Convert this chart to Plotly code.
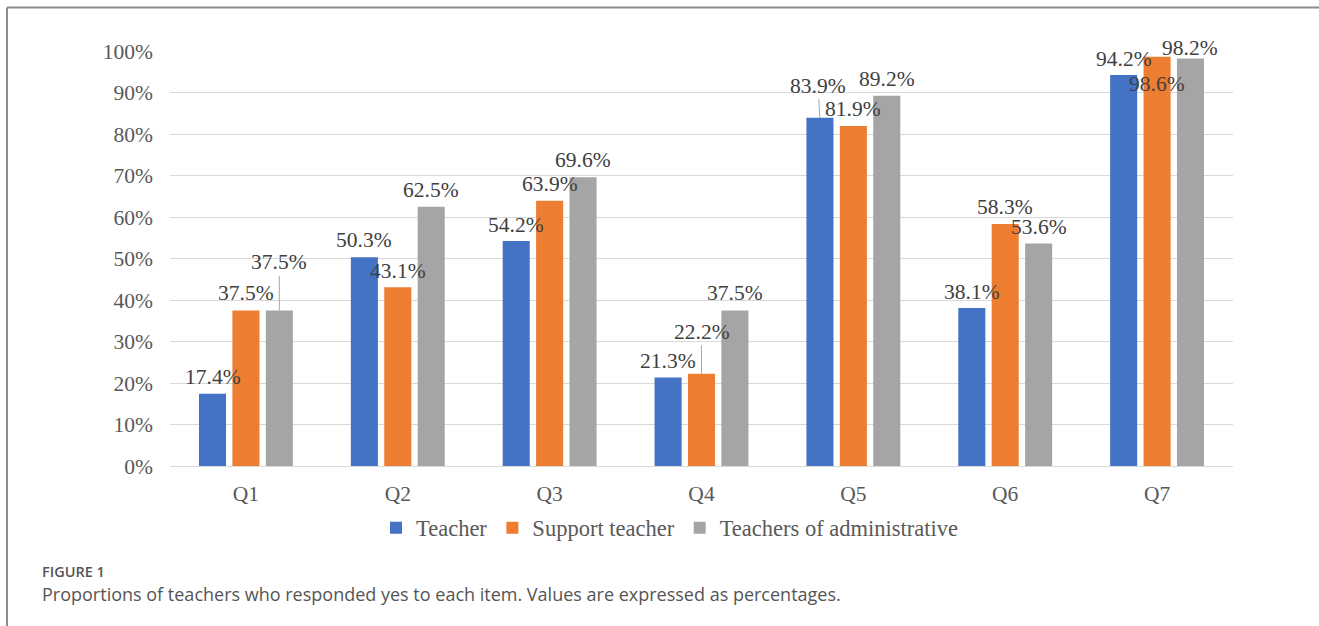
import plotly.graph_objects as go

categories = ["Q1", "Q2", "Q3", "Q4", "Q5", "Q6", "Q7"]
series_names = ["Teacher", "Support teacher", "Teachers of administrative"]
teacher = [17.4, 50.3, 54.2, 21.3, 83.9, 38.1, 94.2]
support_teacher = [37.5, 43.1, 63.9, 22.2, 81.9, 58.3, 98.6]
administrative = [37.5, 62.5, 69.6, 37.5, 89.2, 53.6, 98.2]
y_ticks = [0, 10, 20, 30, 40, 50, 60, 70, 80, 90, 100]

series_values = [teacher, support_teacher, administrative]
colors = ["#4472C4", "#ED7D31", "#A5A5A5"]

# label placement styles (dx px, dy px above bar top, leader line)
label_style = [
    [(0, 17, 0), (0, 17, 0), (0, 16, 0), (0, 17, 0), (-2, 32, 1), (0, 16, 0), (0, 16, 0)],
    [(0, 17, 0), (0, 16, 0), (0, 17, 0), (0, 42, 1), (0, 17, 0), (0, 17, 0), (0, -27, 0)],
    [(0, 48, 1), (0, 17, 0), (0, 17, 0), (0, 17, 0), (0, 17, 0), (0, 17, 0), (0, 10, 0)],
]

W, H = 1319, 626
ML, MR, MT, MB = 170, 86, 51, 160
BARGAP, GROUPGAP = 0.34, 0.19
plot_w = W - ML - MR
plot_h = H - MT - MB
slot_px = plot_w / len(categories) * (1 - BARGAP) / len(series_names)

serif = "Liberation Serif"

fig = go.Figure()
for name, vals, col in zip(series_names, series_values, colors):
    fig.add_trace(go.Bar(
        x=categories, y=[v / 100 for v in vals], name=name,
        marker=dict(color=col, line=dict(width=0)),
        hoverinfo="x+y+name",
    ))

annotations = []
for si, vals in enumerate(series_values):
    offset = (si - (len(series_names) - 1) / 2) * slot_px
    for ci, v in enumerate(vals):
        dx, dy, line = label_style[si][ci]
        annotations.append(dict(
            x=categories[ci], y=v / 100, xref="x", yref="y",
            xshift=offset, text=f"{v:.1f}%",
            showarrow=True, ax=dx, ay=-dy, arrowhead=0, standoff=0,
            arrowwidth=1,
            arrowcolor="#a6a6a6" if line else "rgba(0,0,0,0)",
            font=dict(family=serif, size=21.5, color="#404040"),
        ))

def px_x(p):
    return (p - ML) / plot_w

def px_y(p):
    return (H - MB - p) / plot_h

annotations.append(dict(
    x=px_x(40), y=px_y(571), xref="paper", yref="paper", xanchor="left", yanchor="middle",
    showarrow=False, text="FIGURE 1",
    font=dict(family="Open Sans", size=14.5, color="#555555", weight=600),
))
annotations.append(dict(
    x=px_x(40), y=px_y(594), xref="paper", yref="paper", xanchor="left", yanchor="middle",
    showarrow=False,
    text="Proportions of teachers who responded yes to each item. Values are expressed as percentages.",
    font=dict(family="Open Sans", size=18, color="#555555"),
))

shapes = [
    dict(type="line", xref="paper", yref="paper", x0=px_x(7), x1=px_x(7),
         y0=px_y(7.5), y1=px_y(640), line=dict(color="#8c8c8c", width=2)),
    dict(type="line", xref="paper", yref="paper", x0=px_x(7), x1=px_x(1330),
         y0=px_y(7.5), y1=px_y(7.5), line=dict(color="#8c8c8c", width=2)),
]

fig.update_layout(
    width=W, height=H,
    margin=dict(l=ML, r=MR, t=MT, b=MB, pad=0),
    paper_bgcolor="white", plot_bgcolor="white",
    barmode="group", bargap=BARGAP, bargroupgap=GROUPGAP,
    font=dict(family=serif, size=21.5, color="#595959"),
    annotations=annotations, shapes=shapes,
    showlegend=True,
    legend=dict(
        orientation="h", x=px_x(376), xanchor="left", y=px_y(528), yanchor="middle",
        font=dict(family=serif, size=22.5, color="#595959"),
        bgcolor="rgba(0,0,0,0)", traceorder="normal",
    ),
    xaxis=dict(
        type="category", showgrid=False, showline=True, linecolor="#d9d9d9", linewidth=1,
        ticks="", ticklabelstandoff=8, tickfont=dict(family=serif, size=21.5, color="#595959"),
        fixedrange=True,
    ),
    yaxis=dict(
        range=[0, 1], tickvals=[t / 100 for t in y_ticks], ticktext=[f"{t}%" for t in y_ticks],
        showgrid=True, gridcolor="#d9d9d9", gridwidth=1, zeroline=False, showline=False,
        ticks="", ticklabelstandoff=16, tickfont=dict(family=serif, size=21.5, color="#595959"),
        fixedrange=True,
    ),
)

fig.write_html("out.html")
